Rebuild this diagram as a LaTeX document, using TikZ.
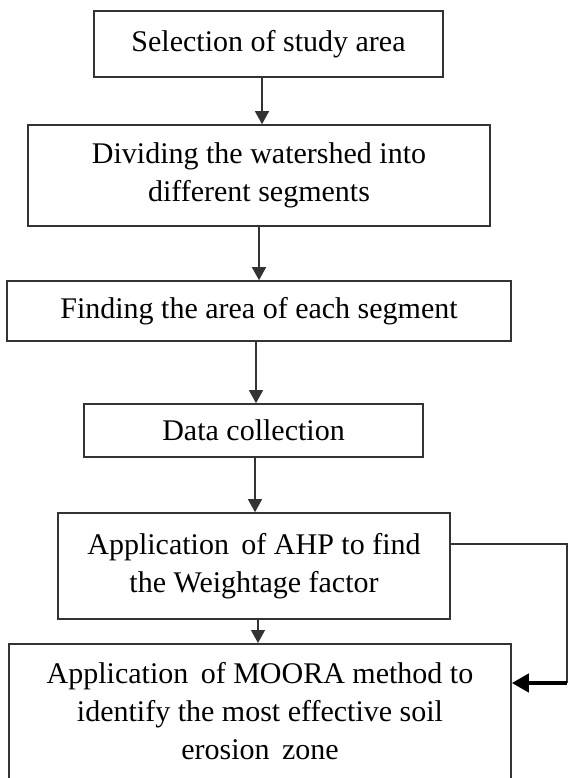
\documentclass[tikz,border=0pt]{standalone}
\usepackage{fontspec}
\setmainfont{Liberation Serif}
\usetikzlibrary{arrows.meta}
\definecolor{boxgray}{HTML}{333333}
\begin{document}
\begin{tikzpicture}[x=1pt,y=-1pt,
  stepbox/.style={draw=boxgray,line width=1.6pt,inner sep=0pt,align=center,
    font=\fontsize{30}{38}\selectfont},
  arr/.style={draw=boxgray,line width=1.3pt,-{Triangle[length=13pt,width=14pt]}},
  backline/.style={draw=boxgray,line width=1.3pt},
  backarr/.style={draw=black,line width=4pt,-{Triangle[length=17pt,width=18pt]}}]
\useasboundingbox (0,0) rectangle (568,778);
\clip (0,0) rectangle (568,778);

% process steps
\node[stepbox,minimum width=349pt,minimum height=66pt] (sel) at (268.5,44)
  {Selection of study area};
\node[stepbox,minimum width=462pt,minimum height=101pt] (div) at (259,175.5)
  {Dividing the watershed into\\different segments};
\node[stepbox,minimum width=504pt,minimum height=60pt] (area) at (259,311)
  {Finding the area of each segment};
\node[stepbox,minimum width=339pt,minimum height=53pt] (data) at (253.5,430.5)
  {Data collection};
\node[stepbox,minimum width=392pt,minimum height=106pt] (ahp) at (254,566)
  {Application\, of AHP to find\\the Weightage factor};
% last box runs on below the page edge
\node[stepbox,minimum width=502pt,anchor=north,inner ysep=18.5pt] (moora) at (260,643)
  {Application\, of MOORA method to\\identify the most effective soil\\erosion\, zone\rule[-24pt]{0pt}{0pt}};

% flow between steps
\draw[arr] ([xshift=-6.5pt]sel.south) -- ([xshift=3pt]div.north);
\draw[arr] (div.south) -- (area.north);
\draw[arr] ([xshift=-3pt]area.south) -- ([xshift=2.5pt]data.north);
\draw[arr] ([xshift=1.5pt]data.south) -- ([xshift=1pt]ahp.north);
\draw[arr] ([xshift=4pt]ahp.south) -- ([xshift=-2pt]moora.north);

% weightage fed back into the MOORA step
\coordinate (fbtop) at (567,544);
\coordinate (fbbot) at (567,683);
\draw[backline] (fbtop -| ahp.east) -- (fbtop) -- (fbbot);
\draw[backarr] (fbbot) -- (fbbot -| moora.east);
\end{tikzpicture}
\end{document}
